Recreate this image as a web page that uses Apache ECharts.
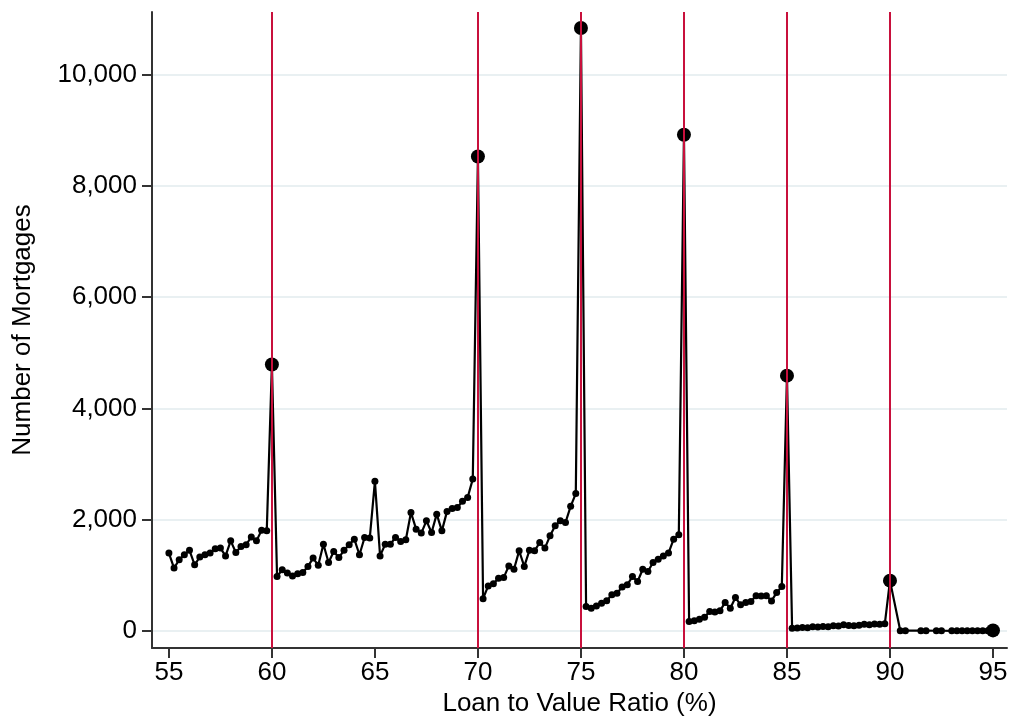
<!DOCTYPE html>
<html>
<head>
<meta charset="utf-8">
<script src="https://cdn.jsdelivr.net/npm/echarts@6/dist/echarts.min.js"></script>
<style>
html,body{margin:0;padding:0;background:#fff;}
#chart{width:1012px;height:722px;}
</style>
</head>
<body>
<div id="chart"></div>
<script>
// Loan-to-value ratio (%) of each observed bin
const ltv = [
  55, 55.25, 55.5, 55.75, 56, 56.25, 56.5, 56.75, 57, 57.25, 57.5, 57.75,
  58, 58.25, 58.5, 58.75, 59, 59.25, 59.5, 59.75, 60, 60.25, 60.5, 60.75,
  61, 61.25, 61.5, 61.75, 62, 62.25, 62.5, 62.75, 63, 63.25, 63.5, 63.75,
  64, 64.25, 64.5, 64.75, 65, 65.25, 65.5, 65.75, 66, 66.25, 66.5, 66.75,
  67, 67.25, 67.5, 67.75, 68, 68.25, 68.5, 68.75, 69, 69.25, 69.5, 69.75,
  70, 70.25, 70.5, 70.75, 71, 71.25, 71.5, 71.75, 72, 72.25, 72.5, 72.75,
  73, 73.25, 73.5, 73.75, 74, 74.25, 74.5, 74.75, 75, 75.25, 75.5, 75.75,
  76, 76.25, 76.5, 76.75, 77, 77.25, 77.5, 77.75, 78, 78.25, 78.5, 78.75,
  79, 79.25, 79.5, 79.75, 80, 80.25, 80.5, 80.75, 81, 81.25, 81.5, 81.75,
  82, 82.25, 82.5, 82.75, 83, 83.25, 83.5, 83.75, 84, 84.25, 84.5, 84.75,
  85, 85.25, 85.5, 85.75, 86, 86.25, 86.5, 86.75, 87, 87.25, 87.5, 87.75,
  88, 88.25, 88.5, 88.75, 89, 89.25, 89.5, 89.75, 90,
  90.5, 90.75, 91.5, 91.75, 92.25, 92.5,
  93, 93.25, 93.5, 93.75, 94, 94.25, 94.5, 94.75, 95
];
// Number of mortgages in each bin
const mortgages = [
  1400, 1130, 1280, 1370, 1450, 1190, 1330, 1370, 1400, 1480, 1490, 1350,
  1620, 1410, 1520, 1550, 1690, 1620, 1810, 1800, 4790, 980, 1100, 1040,
  990, 1030, 1050, 1160, 1310, 1180, 1560, 1230, 1430, 1320, 1450, 1550,
  1650, 1370, 1680, 1670, 2690, 1350, 1560, 1560, 1680, 1610, 1640, 2130,
  1830, 1760, 1980, 1770, 2100, 1800, 2150, 2200, 2220, 2330, 2400, 2730,
  8530, 580, 810, 850, 950, 960, 1170, 1110, 1440, 1160, 1450, 1440,
  1590, 1490, 1710, 1890, 1980, 1950, 2240, 2470, 10840, 440, 410, 450,
  500, 545, 650, 680, 790, 830, 980, 890, 1110, 1070, 1230, 1290,
  1350, 1400, 1650, 1730, 8920, 170, 185, 210, 245, 350, 340, 365,
  510, 410, 600, 470, 510, 530, 635, 630, 635, 540, 690, 800,
  4590, 50, 55, 62, 60, 75, 70, 80, 78, 95, 90, 110,
  100, 95, 105, 120, 112, 125, 120, 128, 905,
  5, 5, 5, 5, 4, 4,
  3, 3, 3, 3, 3, 3, 3, 3, 10
];
// Bins drawn with a large marker
const bigMarkerLtv = [60, 70, 75, 80, 85, 90, 95];
// Reference (vertical) lines
const refLines = [60, 70, 75, 80, 85, 90];
// Tick values
const xTicks = [55, 60, 65, 70, 75, 80, 85, 90, 95];
const yTicks = [0, 2000, 4000, 6000, 8000, 10000];

const points = ltv.map((x, i) => [x, mortgages[i]]);
const FONT = '"Liberation Sans", Arial, Helvetica, sans-serif';

const chart = echarts.init(document.getElementById('chart'), null, {renderer: 'canvas'});
chart.setOption({
  animation: false,
  backgroundColor: '#ffffff',
  grid: {left: 152, right: 5, top: 12, bottom: 74, containLabel: false},
  xAxis: {
    type: 'value',
    min: 54.18,
    max: 95.68,
    name: 'Loan to Value Ratio (%)',
    nameLocation: 'middle',
    nameGap: 43,
    nameTextStyle: {fontFamily: FONT, fontSize: 26, color: '#000'},
    axisLine: {show: true, onZero: false, lineStyle: {color: '#333', width: 2}},
    axisTick: {show: true, length: 10, customValues: xTicks, lineStyle: {color: '#333', width: 2}},
    axisLabel: {customValues: xTicks, fontFamily: FONT, fontSize: 26, color: '#000', margin: 12},
    splitLine: {show: false}
  },
  yAxis: {
    type: 'value',
    min: -306,
    max: 11127,
    name: 'Number of Mortgages',
    nameLocation: 'middle',
    nameGap: 116,
    nameTextStyle: {fontFamily: FONT, fontSize: 26, color: '#000'},
    axisLine: {show: true, onZero: false, lineStyle: {color: '#333', width: 2}},
    axisTick: {show: true, length: 10, customValues: yTicks, lineStyle: {color: '#333', width: 2}},
    axisLabel: {customValues: yTicks, fontFamily: FONT, fontSize: 26, color: '#000', margin: 15,
      formatter: v => v.toLocaleString('en-US')},
    splitLine: {show: true, lineStyle: {color: '#e9f0f2', width: 2}}
  },
  series: [
    {
      type: 'line',
      data: [],
      z: 1,
      silent: true,
      markLine: {
        silent: true,
        symbol: ['none', 'none'],
        label: {show: false},
        lineStyle: {color: '#c8103c', width: 2, type: 'solid'},
        data: refLines.map(v => ({xAxis: v}))
      }
    },
    {
      type: 'line',
      data: points,
      z: 3,
      showAllSymbol: true,
      symbol: 'circle',
      symbolSize: v => bigMarkerLtv.includes(v[0]) ? 14 : 7,
      lineStyle: {color: '#000', width: 2.2},
      itemStyle: {color: '#000', borderWidth: 0}
    }
  ]
});
</script>
</body>
</html>
